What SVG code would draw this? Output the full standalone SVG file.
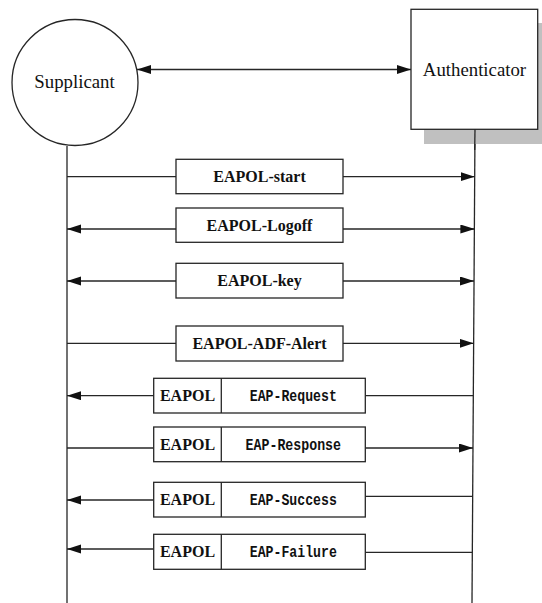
<svg xmlns="http://www.w3.org/2000/svg" width="542" height="603" viewBox="0 0 542 603">
  <style>
    .line { stroke: #262626; stroke-width: 1.3; fill: none; }
    .box { fill: #ffffff; stroke: #262626; stroke-width: 1.3; }
    .actor { font-family: "Liberation Serif", "Times New Roman", serif; font-size: 18.8px; fill: #111; text-anchor: middle; }
    .msg { font-family: "Liberation Serif", "Times New Roman", serif; font-size: 16px; font-weight: bold; fill: #111; text-anchor: middle; }
    .eap { font-family: "Liberation Mono", "DejaVu Sans Mono", monospace; font-size: 16.5px; font-weight: bold; fill: #111; text-anchor: middle; }
  </style>
  <defs>
    <marker id="arrow" markerUnits="userSpaceOnUse" markerWidth="14" markerHeight="10" refX="14" refY="4.5" orient="auto-start-reverse">
      <polygon points="0,0 14,4.5 0,9" fill="#111"/>
    </marker>
  </defs>

  <rect width="542" height="603" fill="#ffffff"/>

  <!-- lifelines and messages -->
  <g id="connectors">
    <line class="line" x1="67" y1="146" x2="67" y2="603"/>
    <line class="line" x1="475" y1="129" x2="472" y2="603"/>
    <!-- association between the two parties -->
    <line class="line" x1="137" y1="69.5" x2="411" y2="69.5" marker-start="url(#arrow)" marker-end="url(#arrow)"/>

    <!-- EAPOL-start -->
    <line class="line" x1="67" y1="176.7" x2="176" y2="176.7"/>
    <line class="line" x1="343" y1="176.7" x2="474.7" y2="176.7" marker-end="url(#arrow)"/>
    <!-- EAPOL-Logoff -->
    <line class="line" x1="176" y1="229" x2="67" y2="229" marker-end="url(#arrow)"/>
    <line class="line" x1="343" y1="229" x2="474.4" y2="229" marker-end="url(#arrow)"/>
    <!-- EAPOL-key -->
    <line class="line" x1="176" y1="281" x2="67" y2="281" marker-end="url(#arrow)"/>
    <line class="line" x1="343" y1="281" x2="474" y2="281" marker-end="url(#arrow)"/>
    <!-- EAPOL-ADF-Alert -->
    <line class="line" x1="67" y1="343.3" x2="176" y2="343.3"/>
    <line class="line" x1="343" y1="343.3" x2="473.6" y2="343.3" marker-end="url(#arrow)"/>
    <!-- EAP-Request -->
    <line class="line" x1="153.7" y1="395.7" x2="67" y2="395.7" marker-end="url(#arrow)"/>
    <line class="line" x1="365.3" y1="395.7" x2="473.3" y2="395.7"/>
    <!-- EAP-Response -->
    <line class="line" x1="67" y1="448" x2="153.7" y2="448"/>
    <line class="line" x1="365.3" y1="448" x2="473" y2="448" marker-end="url(#arrow)"/>
    <!-- EAP-Success -->
    <line class="line" x1="153.7" y1="500" x2="67" y2="500" marker-end="url(#arrow)"/>
    <line class="line" x1="365.3" y1="496.3" x2="472.7" y2="496.3"/>
    <!-- EAP-Failure -->
    <line class="line" x1="153.7" y1="549" x2="67" y2="549" marker-end="url(#arrow)"/>
    <line class="line" x1="365.3" y1="552.3" x2="472.4" y2="552.3"/>
  </g>

  <g id="supplicant">
    <circle class="box" cx="75" cy="82.5" r="63"/>
    <text class="actor" x="74.5" y="88">Supplicant</text>
  </g>

  <g id="authenticator">
    <rect x="424" y="23" width="127" height="121" fill="#c0c0c0"/>
    <rect class="box" x="411" y="9.3" width="126.7" height="120"/>
    <line class="line" x1="475" y1="129.3" x2="474.7" y2="150"/>
    <text class="actor" x="474.5" y="76">Authenticator</text>
  </g>

  <g id="eapol-start">
    <rect class="box" x="176" y="159.3" width="167" height="34.4"/>
    <text class="msg" x="259.5" y="182.3">EAPOL-start</text>
  </g>
  <g id="eapol-logoff">
    <rect class="box" x="176" y="208" width="167" height="34.3"/>
    <text class="msg" x="259.5" y="230.5">EAPOL-Logoff</text>
  </g>
  <g id="eapol-key">
    <rect class="box" x="176" y="263.3" width="167" height="34.7"/>
    <text class="msg" x="259.5" y="286.3">EAPOL-key</text>
  </g>
  <g id="eapol-adf-alert">
    <rect class="box" x="176" y="326" width="167" height="35"/>
    <text class="msg" x="259.5" y="349">EAPOL-ADF-Alert</text>
  </g>

  <g id="eap-request">
    <rect class="box" x="153.7" y="378.3" width="211.6" height="34.7"/>
    <line class="line" x1="221.3" y1="378.3" x2="221.3" y2="413"/>
    <text class="msg" x="187.5" y="401.3">EAPOL</text>
    <text class="eap" x="293.3" y="401.3" textLength="87" lengthAdjust="spacingAndGlyphs">EAP-Request</text>
  </g>
  <g id="eap-response">
    <rect class="box" x="153.7" y="427" width="211.6" height="34.7"/>
    <line class="line" x1="221.3" y1="427" x2="221.3" y2="461.7"/>
    <text class="msg" x="187.5" y="450">EAPOL</text>
    <text class="eap" x="293.3" y="450" textLength="95.5" lengthAdjust="spacingAndGlyphs">EAP-Response</text>
  </g>
  <g id="eap-success">
    <rect class="box" x="153.7" y="482.3" width="211.6" height="34.7"/>
    <line class="line" x1="221.3" y1="482.3" x2="221.3" y2="517"/>
    <text class="msg" x="187.5" y="505.3">EAPOL</text>
    <text class="eap" x="293.3" y="505.3" textLength="87" lengthAdjust="spacingAndGlyphs">EAP-Success</text>
  </g>
  <g id="eap-failure">
    <rect class="box" x="153.7" y="534.3" width="211.6" height="35"/>
    <line class="line" x1="221.3" y1="534.3" x2="221.3" y2="569.3"/>
    <text class="msg" x="187.5" y="557.3">EAPOL</text>
    <text class="eap" x="293.3" y="557.3" textLength="87" lengthAdjust="spacingAndGlyphs">EAP-Failure</text>
  </g>
</svg>
